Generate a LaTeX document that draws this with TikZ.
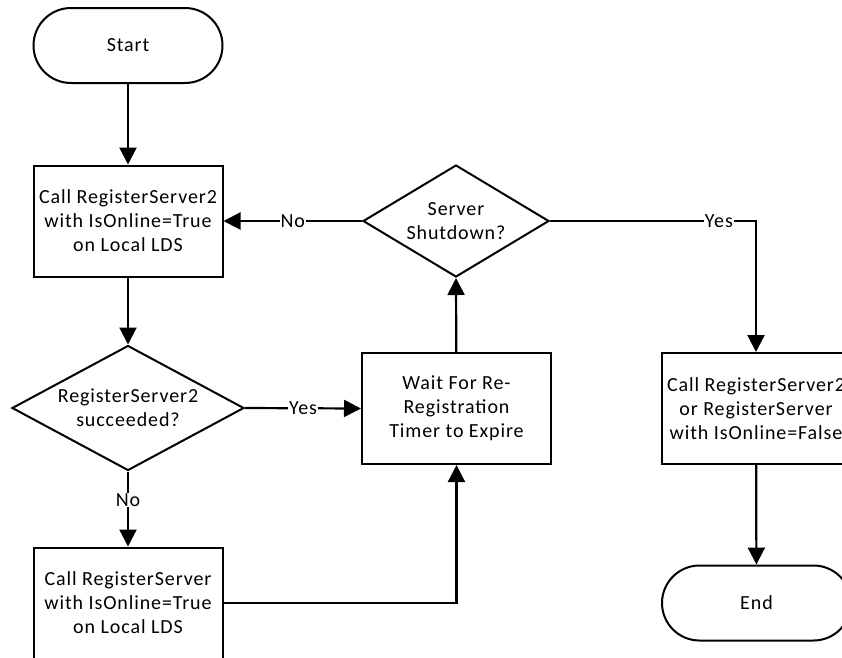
\documentclass[tikz,border=0pt]{standalone}
\usepackage{fontspec}
\setmainfont{Carlito}[LetterSpace=4.5]
\usetikzlibrary{arrows.meta,shapes.geometric,shapes.misc}

\begin{document}
\begin{tikzpicture}[x=1pt,y=-1pt,
  every node/.style={font=\fontsize{20}{24}\selectfont},
  terminal/.style={rounded rectangle,draw,line width=2pt,minimum width=189pt,minimum height=75pt,inner sep=0pt},
  process/.style={rectangle,draw,line width=2pt,minimum width=189pt,minimum height=111pt,inner sep=0pt,align=center},
  decision/.style={diamond,draw,line width=2pt,inner sep=0pt},
  dtext/.style={align=center,inner sep=0pt},
  flow/.style={line width=2.2pt,-{Triangle[length=17pt,width=17pt]}},
  branch/.style={fill=white,inner sep=1pt}
]
\clip (0,0) rectangle (842,657);

% shapes
\node[terminal] (start) at (128,45.5) {Start};
\node[process] (reg2) at (128,221) {Call RegisterServer2\\with IsOnline=True\\on Local LDS};
\node[decision,minimum width=232pt,minimum height=125pt] (ok) at (128,408) {};
\node[dtext] (oktext) at (ok.center) {RegisterServer2\\succeeded?};
\node[process] (reg1) at (128,603) {Call RegisterServer\\with IsOnline=True\\on Local LDS};
\node[process] (wait) at (456.5,408.5) {Wait For Re-\\Registration\\Timer to Expire};
\node[decision,minimum width=186pt,minimum height=112pt] (shut) at (456,221) {};
\node[dtext] (shuttext) at (shut.center) {Server\\Shutdown?};
\node[process] (off) at (756,408.5) {Call RegisterServer2\\or RegisterServer\\with IsOnline=False};
\node[terminal] (end) at (756.5,603) {End};

% connectors
\draw[flow] (start) -- (reg2);
\draw[flow] (reg2) -- (ok);
\draw[flow] (ok.south) -- node[branch,pos=0.38] (nolbl) {No} (reg1);
\draw[flow] (ok.east) -- node[branch] (yeslbl) {Yes} (wait.west);
\draw[flow] (reg1.east) -| (wait.south);
\draw[flow] (wait) -- (shut.south);
\draw[flow] (shut.west) -- node[branch] (nolbl2) {No} (reg2.east);
\draw[flow] (shut.east) -| node[branch,pos=0.41] (yeslbl2) {Yes} (off.north);
\draw[flow] (off) -- (end);
\end{tikzpicture}
\end{document}
